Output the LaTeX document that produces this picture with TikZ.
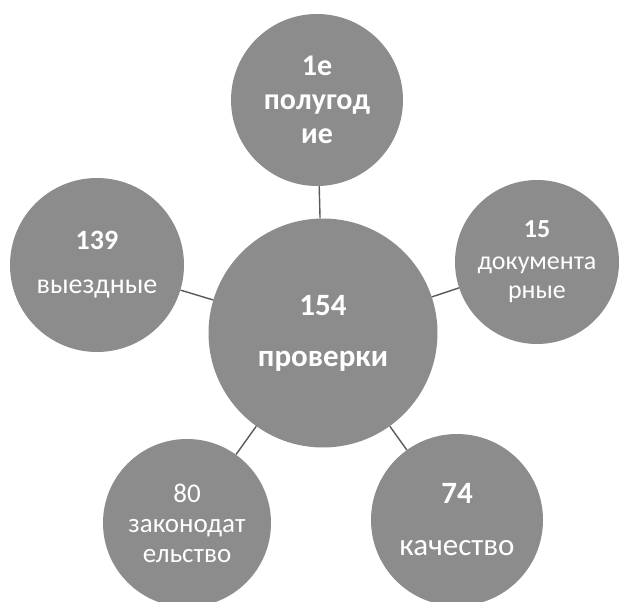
\documentclass[tikz,border=0pt]{standalone}
\usepackage{fontspec}
\setmainfont{Carlito}
\tikzset{
  bubble/.style={circle, fill=black!45, draw=none, text=white, align=center, inner sep=0pt},
  link/.style={draw=black!65, line width=1.4pt}
}

\begin{document}
\begin{tikzpicture}[x=1pt, y=-1pt]

        \useasboundingbox (0,0) rectangle (619,602);

        %% circles
        \node (C) [bubble, minimum size=229pt, font=\bfseries\fontsize{31}{34}\selectfont] at (323,333) {154\\[17pt]проверки};
        \node (T) [bubble, minimum size=172pt, font=\bfseries\fontsize{30}{34}\selectfont] at (317,100) {1е\\полугод\\ие};
        \node (L) [bubble, minimum size=174pt, font=\fontsize{28}{32}\selectfont] at (97,265) {\textbf{139}\\[12pt]выездные};
        \node (R) [bubble, minimum size=164pt, font=\fontsize{26}{29}\selectfont] at (537,262) {\textbf{15}\\[3pt]документа\\рные};
        \node (BL) [bubble, minimum size=168pt, font=\fontsize{27}{30}\selectfont] at (187,523) {80\\законодат\\ельство};
        \node (BR) [bubble, minimum size=172pt, font=\fontsize{31}{36}\selectfont] at (457,520) {\textbf{74}\\[16pt]качество};

        %% links
        \draw[link] (C) -- (T);
        \draw[link] (C) -- (L);
        \draw[link] (C) -- (R);
        \draw[link] (C) -- (BL);
        \draw[link] (C) -- (BR);

\end{tikzpicture}
\end{document}
